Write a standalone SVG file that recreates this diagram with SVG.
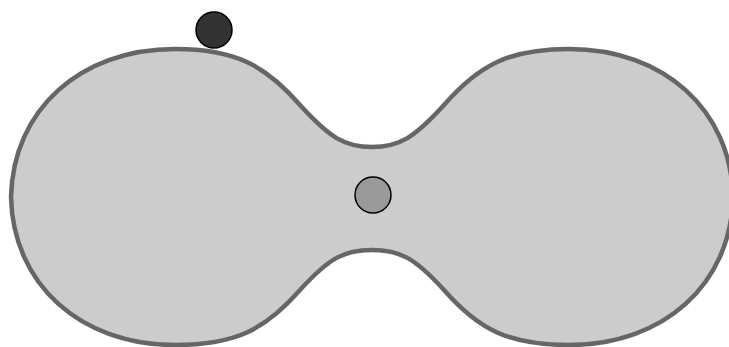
<svg xmlns="http://www.w3.org/2000/svg" width="729" height="347" viewBox="0 0 729 347">
<style>
.shape{fill:#cccccc;stroke:#666666;stroke-width:4.5}
.dot{stroke:#000;stroke-width:1.5}
</style>
<g id="shape">
<path class="shape" d="M11,197 C13,110 80,49 175,49 C 235,49 265,65 300,105 C 330,138 345,147 372,147 C 399,147 414,138 444,105 C 479,65 509,49 569,49 C 664,49 731,110 733,197 C 731,284 664,345 569,345 C 509,345 479,330 444,290 C 414,257 399,250 372,250 C 345,250 330,257 300,290 C 265,330 235,345 175,345 C 80,345 13,284 11,197 Z"/>
</g>
<g id="ball-top"><circle class="dot" cx="214" cy="30" r="18" fill="#333333"/></g>
<g id="ball-center"><circle class="dot" cx="373" cy="195" r="18" fill="#999999"/></g>
</svg>
